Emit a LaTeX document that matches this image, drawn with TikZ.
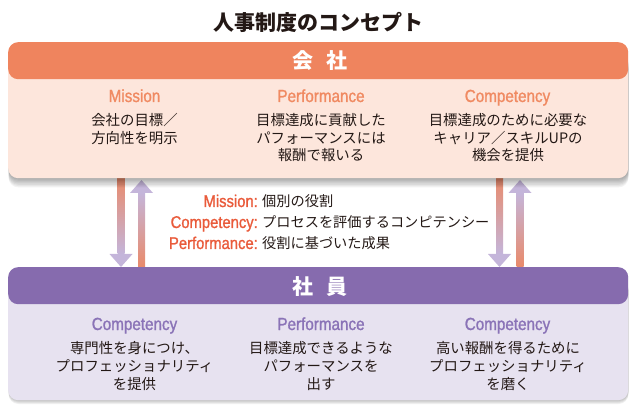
\documentclass[tikz,border=0pt]{standalone}
\usepackage{fontspec}
\setmainfont{Noto Sans CJK JP}
\newfontfamily\jpfont{Noto Sans CJK JP}
\newfontfamily\enfont[FakeStretch=0.87,FakeBold=1.2]{Liberation Sans}
\usetikzlibrary{calc}
\definecolor{hdorange}{HTML}{EF845E}
\definecolor{peach}{HTML}{FDE6DC}
\definecolor{colorange}{HTML}{F08A62}
\definecolor{labred}{HTML}{E95A3A}
\definecolor{hdpurple}{HTML}{866BAE}
\definecolor{lav}{HTML}{E7E2F0}
\definecolor{colpurple}{HTML}{8A73B7}
\definecolor{arrlav}{HTML}{C4B5DA}
\definecolor{arrorange}{HTML}{E98A6A}
\definecolor{ink}{HTML}{231815}
\tikzset{
  jtxt/.style={font=\jpfont\fontsize{14.4}{17}\selectfont, text=ink, anchor=base, inner sep=0pt},
  mtxt/.style={font=\jpfont\fontsize{14.2}{17}\selectfont, text=ink, anchor=base west, inner sep=0pt},
  ohead/.style={font=\enfont\fontsize{17.5}{20}\selectfont, text=colorange, anchor=base, inner sep=0pt},
  phead/.style={font=\enfont\fontsize{17.5}{20}\selectfont, text=colpurple, anchor=base, inner sep=0pt},
  mlab/.style={font=\enfont\fontsize{17}{20}\selectfont, text=labred, anchor=base east, inner sep=0pt},
  barlabel/.style={font=\jpfont\bfseries\fontsize{21}{21}\selectfont, text=white, inner sep=0pt},
  boxbody/.style={rectangle, rounded corners=10pt, minimum width=620pt, inner sep=0pt, anchor=north west},
  shaftdown/.style={top color=arrorange, bottom color=arrlav},
  shaftup/.style={top color=arrlav, bottom color=arrorange},
  headfill/.style={fill=arrlav},
}
\begin{document}
\begin{tikzpicture}[x=1pt,y=-1pt]
\useasboundingbox (0,0) rectangle (632,406);

% title
\node[font=\jpfont\bfseries\fontsize{21}{21}\selectfont, text=ink] (title) at (318,22) {人事制度のコンセプト};

% arrow end points
\coordinate (ld0) at (121,176);   \coordinate (ld1) at (121,267);
\coordinate (lu0) at (141.5,267); \coordinate (lu1) at (141.5,180);
\coordinate (rd0) at (499.5,176); \coordinate (rd1) at (499.5,267);
\coordinate (ru0) at (520,267);   \coordinate (ru1) at (520,180);

% down arrows
\foreach \a/\b in {ld0/ld1, rd0/rd1}{
  \shade[shaftdown] ($(\a)+(-3.5,0)$) rectangle ($(\b)+(3.5,-13)$);
  \fill[headfill] ($(\b)+(-11.5,-13)$) -- ($(\b)+(11.5,-13)$) -- (\b) -- cycle;
}
% up arrows
\foreach \a/\b in {lu0/lu1, ru0/ru1}{
  \shade[shaftup] ($(\a)+(-3.5,0)$) rectangle ($(\b)+(3.5,13)$);
  \fill[headfill] ($(\b)+(-11.5,13)$) -- ($(\b)+(11.5,13)$) -- (\b) -- cycle;
}

% shadow of top box
\foreach \d in {1,...,8}
  \fill[black, opacity=0.05, rounded corners=10pt] (8.5,52+\d) rectangle (628.5,177+1.3*\d);
% top box
\node[boxbody, fill=peach, minimum height=136pt] (cbody) at (8,42) {};
\node[boxbody, fill=hdorange, minimum height=37pt] (chead) at (8,42) {};
\node[barlabel] (clabel) at (320,61) {会\hspace{0.6em}社};

\node[ohead] (c1h) at (134.5,102) {Mission};
\node[ohead] (c2h) at (321,102) {Performance};
\node[ohead] (c3h) at (507.5,102) {Competency};

\node[jtxt] (c1a) at (134.5,126) {会社の目標／};
\node[jtxt] (c1b) at (134.5,143.5) {方向性を明示};
\node[jtxt] (c2a) at (321,126) {目標達成に貢献した};
\node[jtxt] (c2b) at (321,143.5) {パフォーマンスには};
\node[jtxt] (c2c) at (321,161) {報酬で報いる};
\node[jtxt] (c3a) at (508,126) {目標達成のために必要な};
\node[jtxt] (c3b) at (508,143.5) {キャリア／スキルUPの};
\node[jtxt] (c3c) at (508,161) {機会を提供};

% middle labels
\node[mlab] (m1) at (258,207) {Mission:};
\node[mtxt] (m1j) at ([xshift=4pt]m1.base east) {個別の役割};
\node[mlab] (m2) at (258,228) {Competency:};
\node[mtxt] (m2j) at ([xshift=4pt]m2.base east) {プロセスを評価するコンピテンシー};
\node[mlab] (m3) at (258,249) {Performance:};
\node[mtxt] (m3j) at ([xshift=4pt]m3.base east) {役割に基づいた成果};

% shadow of bottom box
\foreach \d in {1,...,4}
  \fill[black, opacity=0.06, rounded corners=10pt] (8.5,280) rectangle (628.5,400+\d);
% bottom box
\node[boxbody, fill=lav, minimum height=133pt] (ebody) at (8,267) {};
\node[boxbody, fill=hdpurple, minimum height=37pt] (ehead) at (8,267) {};
\node[barlabel] (elabel) at (320,287) {社\hspace{0.6em}員};

\node[phead] (e1h) at (134.5,330) {Competency};
\node[phead] (e2h) at (321,330) {Performance};
\node[phead] (e3h) at (507.5,330) {Competency};

\node[jtxt] (e1a) at (134.5,353) {専門性を身につけ、};
\node[jtxt] (e1b) at (134.5,371) {プロフェッショナリティ};
\node[jtxt] (e1c) at (134.5,389) {を提供};
\node[jtxt] (e2a) at (321,353) {目標達成できるような};
\node[jtxt] (e2b) at (321,371) {パフォーマンスを};
\node[jtxt] (e2c) at (321,389) {出す};
\node[jtxt] (e3a) at (508,353) {高い報酬を得るために};
\node[jtxt] (e3b) at (508,371) {プロフェッショナリティ};
\node[jtxt] (e3c) at (508,389) {を磨く};
\end{tikzpicture}
\end{document}
